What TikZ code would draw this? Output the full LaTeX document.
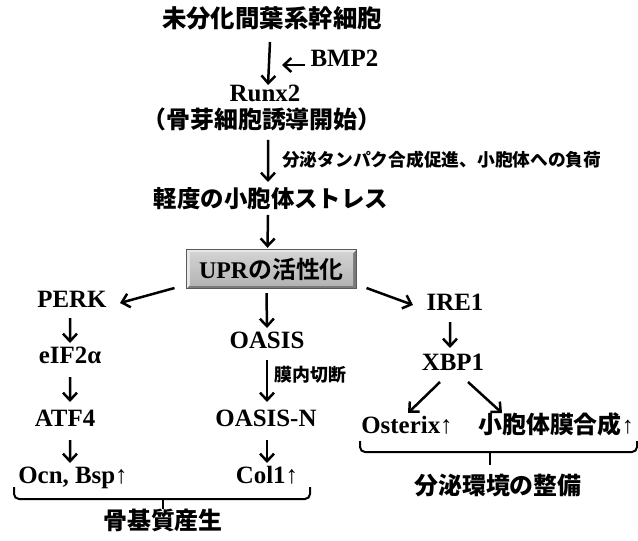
\documentclass[tikz,border=0pt]{standalone}
\usepackage{fontspec}
\setmainfont{Liberation Serif}
\newfontfamily\cjk{Noto Sans CJK JP Black}
\usetikzlibrary{arrows.meta}
\pgfdeclarelayer{background}
\pgfsetlayers{background,main}
\definecolor{bevdark}{HTML}{7A7A7A}
\definecolor{bevlight}{HTML}{E8E8E8}
\definecolor{facetop}{HTML}{D2D2D2}
\definecolor{facebot}{HTML}{B4B4B4}
\definecolor{bevedge}{HTML}{5A5A5A}
\tikzset{
  lat/.style={inner sep=0pt, text height=0.72em, text depth=0.08em,
    font=\fontsize{25}{25}\selectfont\bfseries},
  jp/.style={inner sep=0pt, text height=0.88em, text depth=0.12em,
    font=\fontsize{24}{24}\selectfont\cjk},
  jpsmall/.style={jp, font=\fontsize{17.8}{18}\selectfont\cjk},
  arr/.style={line width=2.5bp, -{Straight Barb[length=7.5bp,width=14bp]}},
  bracepath/.style={line width=2bp, rounded corners=5bp},
}
\newcommand{\up}{{\mdseries ↑}}
\begin{document}
\begin{tikzpicture}[x=1bp,y=-1bp]
\useasboundingbox (0,0) rectangle (638,541);

% main column
\node[jp, font=\fontsize{24.5}{25}\selectfont\cjk] (title) at (272,24) {未分化間葉系幹細胞};
\node[lat] (bmp) at (344.5,63.5) {BMP2};
\coordinate (bmpend) at (282,65);
\node[lat] (runx) at (265,98) {Runx2};
\node[jp] (kotsu) at (262,125) {（骨芽細胞誘導開始）};
\node[jpsmall, anchor=west] (load) at (282,163) {分泌タンパク合成促進、小胞体への負荷};
\node[jp, font=\fontsize{23.5}{24}\selectfont\cjk] (stress) at (271,204) {軽度の小胞体ストレス};
\node[inner sep=0pt, minimum width=169bp, minimum height=38bp,
      font=\fontsize{24}{24}\selectfont\bfseries] (upr) at (271.5,269) {UPR{\cjk の活性化}};

\begin{pgfonlayer}{background}
  \fill[white] (0,0) rectangle (638,541);
  \fill[bevdark] (upr.north west) rectangle (upr.south east);
  \fill[bevlight] (upr.south west) -- (upr.north west) -- (upr.north east)
    -- ([xshift=-3bp,yshift=-3bp]upr.north east) -- ([xshift=3bp,yshift=-3bp]upr.north west)
    -- ([xshift=3bp,yshift=3bp]upr.south west) -- cycle;
  \shade[top color=facetop, bottom color=facebot]
    ([xshift=3bp,yshift=-3bp]upr.north west) rectangle ([xshift=-3bp,yshift=3bp]upr.south east);
  \draw[bevedge, line width=0.8bp] (upr.north west) rectangle (upr.south east);
\end{pgfonlayer}

% left column
\node[lat] (perk) at (72,304) {PERK};
\node[lat] (eif) at (70,360) {eIF2α};
\node[lat] (atf) at (65,423.5) {ATF4};
\node[lat] (ocn) at (73,480) {Ocn, Bsp\up};

% middle column
\node[lat] (oasis) at (267,345) {OASIS};
\node[jpsmall, font=\fontsize{18}{18}\selectfont\cjk, anchor=west] (cut) at (274,378) {膜内切断};
\node[lat] (oasisn) at (266,423) {OASIS-N};
\node[lat] (col) at (267,480) {Col1\up};

% right column
\node[lat] (ire) at (455,307.5) {IRE1};
\node[lat] (xbp) at (453,367.5) {XBP1};
\node[lat] (osx) at (407,430) {Osterix\up};
\node[jp] (maku) at (556,430) {小胞体膜合成{\normalfont\mdseries ↑}};

% bottom labels
\node[jp] (bone) at (163,526) {骨基質産生};
\node[jp] (env) at (498,491) {分泌環境の整備};

% arrows
\draw[arr] ([xshift=-2bp,yshift=-18bp]title.center) -- ([xshift=3bp,yshift=13bp]runx.center);
\draw[arr] ([xshift=-39.5bp,yshift=-1.5bp]bmp.center) -- (bmpend);
\draw[arr] ([xshift=6bp,yshift=-15bp]kotsu.center) -- ([xshift=-3bp,yshift=22bp]stress.center);
\draw[arr] ([xshift=-3bp,yshift=-11bp]stress.center) -- ([xshift=-4bp,yshift=2bp]upr.north);

\draw[arr] ([xshift=-97bp,yshift=-19bp]upr.center) -- ([xshift=48bp,yshift=1bp]perk.center);
\draw[arr] ([xshift=-5bp,yshift=-5bp]upr.south) -- ([yshift=17bp]oasis.center);
\draw[arr] ([xshift=95bp,yshift=-19bp]upr.center) -- ([xshift=-42bp,yshift=2.5bp]ire.center);

\draw[arr] ([xshift=-2bp,yshift=-14bp]perk.center) -- ([yshift=17bp]eif.center);
\draw[arr] ([yshift=-17bp]eif.center) -- ([xshift=5bp,yshift=21.5bp]atf.center);
\draw[arr] ([xshift=5bp,yshift=-16.5bp]atf.center) -- ([xshift=-3bp,yshift=17bp]ocn.center);

\draw[arr] ([yshift=-15bp]oasis.center) -- ([xshift=1bp,yshift=21bp]oasisn.center);
\draw[arr] ([xshift=1bp,yshift=-17bp]oasisn.center) -- ([yshift=17bp]col.center);

\draw[arr] ([xshift=-5bp,yshift=-14.5bp]ire.center) -- ([xshift=-3bp,yshift=19.5bp]xbp.center);
\draw[arr] ([xshift=-13bp,yshift=-14.5bp]xbp.center) -- ([xshift=1bp,yshift=17bp]osx.center);
\draw[arr] ([xshift=15bp,yshift=-14.5bp]xbp.center) -- ([xshift=-54bp,yshift=17bp]maku.center);

% braces
\draw[bracepath] (14,487) |- (163,499) -| (310,487);
\draw[line width=2bp] (163,499) -- (163,509);
\draw[bracepath] (360,441) |- (490,452) -| (637,441);
\draw[line width=2bp] (490,452) -- (490,465);
\end{tikzpicture}
\end{document}
